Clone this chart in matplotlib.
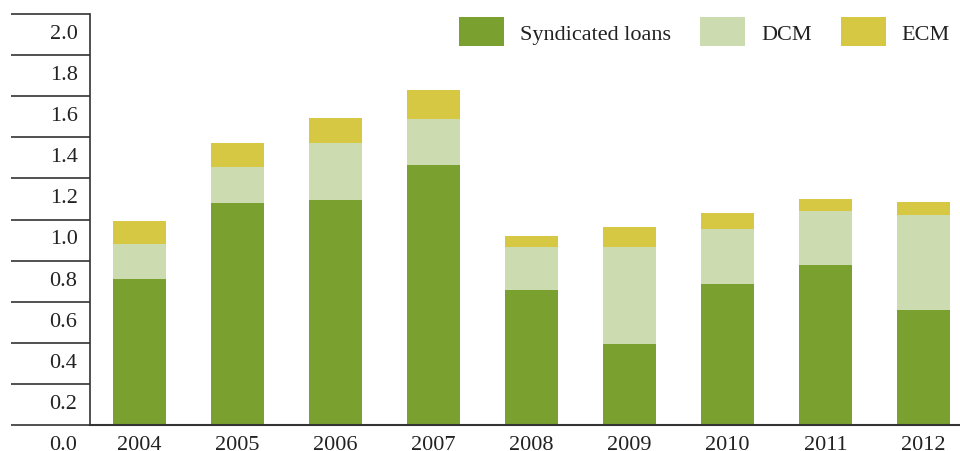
import numpy as np
import matplotlib
matplotlib.use("Agg")
import matplotlib.pyplot as plt
from matplotlib.transforms import ScaledTranslation

plt.rcParams['font.family'] = ['Liberation Serif', 'DejaVu Serif']

years = ["2004", "2005", "2006", "2007", "2008", "2009", "2010", "2011", "2012"]
loans = [0.710, 1.080, 1.095, 1.265, 0.657, 0.394, 0.686, 0.779, 0.560]
dcm = [0.171, 0.175, 0.277, 0.224, 0.209, 0.472, 0.268, 0.262, 0.462]
ecm = [0.112, 0.117, 0.122, 0.141, 0.054, 0.098, 0.078, 0.059, 0.063]
series_names = ["Syndicated loans", "DCM", "ECM"]
colors = ["#7aa12f", "#ccdcb0", "#d6c843"]
y_ticks = [0.0, 0.2, 0.4, 0.6, 0.8, 1.0, 1.2, 1.4, 1.6, 1.8, 2.0]

fig = plt.figure(figsize=(9.6, 4.52), dpi=100)
ax = fig.add_axes([90 / 960, 26 / 452, 870 / 960, 411 / 452])

x = np.arange(len(years))
bottom = np.zeros(len(years))
for vals, name, c in zip([loans, dcm, ecm], series_names, colors):
    ax.bar(x, vals, 0.54, bottom=bottom, color=c, label=name, linewidth=0)
    bottom += np.array(vals)

ax.set_xlim(-0.505, 8.37)
ax.set_ylim(0, 2.0)

for s in ["top", "right"]:
    ax.spines[s].set_visible(False)
ax.spines["left"].set_color("#333333")
ax.spines["bottom"].set_color("#333333")
ax.spines["left"].set_linewidth(1.2)
ax.spines["bottom"].set_linewidth(1.5)

ax.set_xticks(x)
ax.set_xticklabels(years)
ax.tick_params(axis="x", length=0, pad=7, labelsize=16, colors="#222222")

# long tick lines reaching out to the left; labels sit just under each line
ax.set_yticks(y_ticks)
ax.set_yticklabels(["%.1f" % v for v in y_ticks])
ax.tick_params(axis="y", length=57, width=1.2, color="#333333", pad=-48,
               labelsize=16, labelcolor="#222222")
offset = ScaledTranslation(0, -0.17, fig.dpi_scale_trans)
for lab in ax.get_yticklabels():
    lab.set_transform(lab.get_transform() + offset)

fig.legend(loc="upper right", bbox_to_anchor=(950 / 960, 1 - 18 / 452),
           ncol=3, frameon=False, fontsize=16, borderpad=0, borderaxespad=0,
           handlelength=2.03, handleheight=1.63, handletextpad=0.72,
           columnspacing=1.3, labelcolor="#222222")

fig.savefig("out.png", dpi=100)
